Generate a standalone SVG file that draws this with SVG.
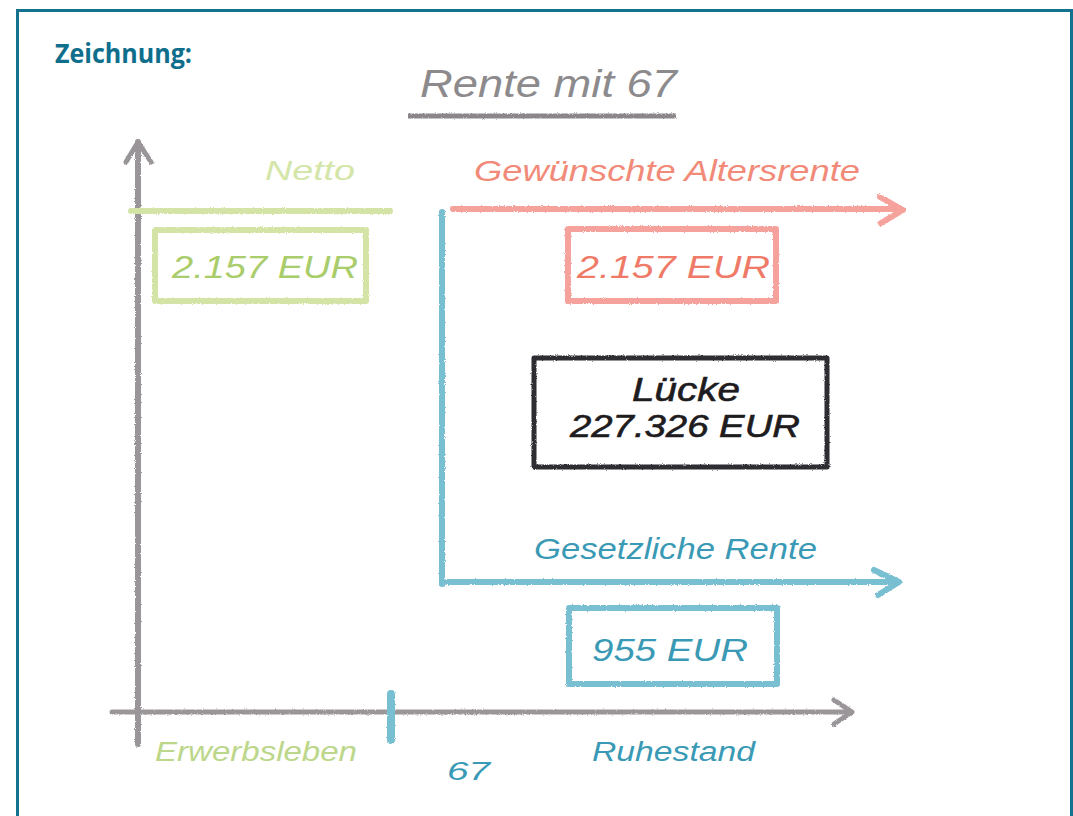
<svg xmlns="http://www.w3.org/2000/svg" width="1073" height="816" viewBox="0 0 1073 816">
<defs>
<filter id="rough" filterUnits="userSpaceOnUse" x="0" y="0" width="1073" height="816">
<feTurbulence type="fractalNoise" baseFrequency="0.9" numOctaves="2" seed="3" result="n"/>
<feDisplacementMap in="SourceGraphic" in2="n" scale="2.5" xChannelSelector="R" yChannelSelector="G"/>
</filter>
</defs>
<style>
.hand{font-family:"Liberation Sans","DejaVu Sans",sans-serif;font-style:italic;font-weight:normal}
.gray{stroke:#9a9598;fill:none;stroke-linecap:round;stroke-linejoin:round}
.green{stroke:#d3e4a6;fill:none;stroke-linecap:round;stroke-linejoin:round}
.salmon{stroke:#f5a29c;fill:none;stroke-linecap:round;stroke-linejoin:round}
.teal{stroke:#79bfd2;fill:none;stroke-linecap:round;stroke-linejoin:round}
.dark{stroke:#2f2d30;fill:none;stroke-linejoin:round}
</style>
<rect width="1073" height="816" fill="#ffffff"/>
<path d="M17.5 816 V10.5 H1071.5 V816" fill="none" stroke="#13728d" stroke-width="3"/>
<text x="55" y="63" font-family="'Open Sans','Liberation Sans',sans-serif" font-weight="bold" font-size="26" fill="#0f6e8c" textLength="137" lengthAdjust="spacingAndGlyphs">Zeichnung:</text>

<g id="title">
<text class="hand" x="420" y="97" font-size="38" fill="#8c8a8c" textLength="257" lengthAdjust="spacingAndGlyphs">Rente mit 67</text>
<path d="M408 116 H676" stroke="#8a8689" stroke-width="5" fill="none" filter="url(#rough)"/>
</g>

<g id="connectors" filter="url(#rough)">
<path class="gray" d="M138 142 V744" stroke-width="6"/>
<path class="gray" d="M126 162 L138 142 L151 162" stroke-width="5"/>
<path class="gray" d="M112 712 H848" stroke-width="5"/>
<path class="gray" d="M834 700 L852 712 L834 724" stroke-width="5"/>
<path class="green" d="M131 211 H390" stroke-width="6"/>
<path class="teal" d="M442 212 V584" stroke-width="6"/>
<path class="salmon" d="M453 209 H900" stroke-width="6"/>
<path class="salmon" d="M880 197 L903 210 L881 223" stroke-width="6"/>
<path class="teal" d="M447 582 H898" stroke-width="6"/>
<path class="teal" d="M874 570 L899 582 L878 595" stroke-width="6"/>
<path class="teal" d="M391 694 V740" stroke-width="8"/>
</g>

<g id="netto">
<text class="hand" x="265" y="180" font-size="28" fill="#d4e5a8" textLength="90" lengthAdjust="spacingAndGlyphs">Netto</text>
</g>
<g id="netto-box">
<rect class="green" x="155" y="230" width="211" height="71" stroke-width="6" filter="url(#rough)"/>
<text class="hand" x="172" y="278" font-size="32" fill="#a9cd6a" textLength="186" lengthAdjust="spacingAndGlyphs">2.157 EUR</text>
</g>

<g id="wunsch">
<text class="hand" x="474" y="181" font-size="29" fill="#f18a78" textLength="386" lengthAdjust="spacingAndGlyphs">Gewünschte Altersrente</text>
</g>
<g id="wunsch-box">
<rect class="salmon" x="568" y="229" width="208" height="72" stroke-width="6" filter="url(#rough)"/>
<text class="hand" x="577" y="278" font-size="32" fill="#f07a68" textLength="193" lengthAdjust="spacingAndGlyphs">2.157 EUR</text>
</g>

<g id="luecke">
<rect class="dark" x="534" y="358" width="293" height="109" stroke-width="5" filter="url(#rough)"/>
<text class="hand" x="632" y="401" font-size="33" fill="#1e1c1e" stroke="#1e1c1e" stroke-width="0.6" textLength="108" lengthAdjust="spacingAndGlyphs">Lücke</text>
<text class="hand" x="570" y="437" font-size="31" fill="#1e1c1e" stroke="#1e1c1e" stroke-width="0.6" textLength="230" lengthAdjust="spacingAndGlyphs">227.326 EUR</text>
</g>

<g id="gesetzlich">
<text class="hand" x="534" y="559" font-size="29" fill="#3a9ab5" textLength="283" lengthAdjust="spacingAndGlyphs">Gesetzliche Rente</text>
</g>
<g id="gesetzlich-box">
<rect class="teal" x="569" y="608" width="208" height="76" stroke-width="6" filter="url(#rough)"/>
<text class="hand" x="592" y="661" font-size="32" fill="#3a9ab5" textLength="156" lengthAdjust="spacingAndGlyphs">955 EUR</text>
</g>

<g id="axis-labels">
<text class="hand" x="155" y="761" font-size="27" fill="#bcd78a" textLength="202" lengthAdjust="spacingAndGlyphs">Erwerbsleben</text>
<text class="hand" x="447" y="780" font-size="25" fill="#3a9ab5" textLength="43" lengthAdjust="spacingAndGlyphs">67</text>
<text class="hand" x="592" y="761" font-size="27" fill="#3a9ab5" textLength="163" lengthAdjust="spacingAndGlyphs">Ruhestand</text>
</g>
</svg>
